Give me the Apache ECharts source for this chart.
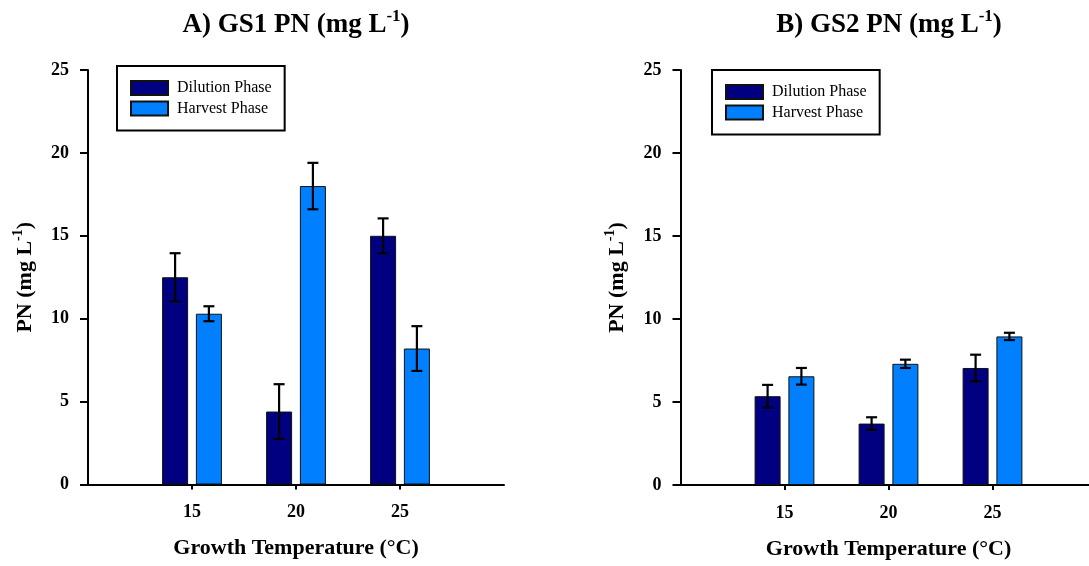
<!DOCTYPE html>
<html>
<head>
<meta charset="utf-8">
<script src="https://cdn.jsdelivr.net/npm/echarts@6/dist/echarts.min.js"></script>
<style>
html,body{margin:0;padding:0;background:#fff;}
#chart{width:1089px;height:566px;}
</style>
</head>
<body>
<div id="chart"></div>
<script>
// ---- data ----
const temperatures = [15, 20, 25];
const seriesNames = ['Dilution Phase', 'Harvest Phase'];
// Panel A: GS1
const gs1Dilution = [12.5, 4.4, 15.0];
const gs1DilutionErr = [1.45, 1.65, 1.05];
const gs1Harvest = [10.3, 18.0, 8.2];
const gs1HarvestErr = [0.45, 1.4, 1.35];
// Panel B: GS2
const gs2Dilution = [5.35, 3.7, 7.05];
const gs2DilutionErr = [0.68, 0.38, 0.8];
const gs2Harvest = [6.55, 7.3, 8.95];
const gs2HarvestErr = [0.5, 0.25, 0.22];
const yTickValues = [0, 5, 10, 15, 20, 25];
const xTickValues = [15, 20, 25];

const FONT = 'Liberation Serif';
const C_DIL = '#000080';
const C_HAR = '#0080ff';

const chart = echarts.init(document.getElementById('chart'), null, {renderer: 'canvas'});

function pairs(vals) { return temperatures.map((t, i) => [t, vals[i]]); }
function errPairs(vals, errs) { return temperatures.map((t, i) => [t, vals[i], errs[i]]); }

function errorRenderer(offset) {
  return function (params, api) {
    const x = api.value(0), v = api.value(1), e = api.value(2);
    const top = api.coord([x, v + e]);
    const bot = api.coord([x, v - e]);
    const cx = top[0] + offset;
    const hw = 5.5;
    const st = {stroke: '#000', lineWidth: 2.2, fill: null};
    return {
      type: 'group',
      children: [
        {type: 'line', shape: {x1: cx, y1: top[1], x2: cx, y2: bot[1]}, style: st},
        {type: 'line', shape: {x1: cx - hw, y1: top[1], x2: cx + hw, y2: top[1]}, style: st},
        {type: 'line', shape: {x1: cx - hw, y1: bot[1], x2: cx + hw, y2: bot[1]}, style: st}
      ]
    };
  };
}

const grids = [
  {left: 88, top: 70, width: 416, height: 414.5, outerBoundsMode: 'none', containLabel: false},
  {left: 680.5, top: 70, width: 416, height: 415, outerBoundsMode: 'none', containLabel: false}
];

function xAxisFor(i) {
  return {
    type: 'value', gridIndex: i, min: 10, max: 30, interval: 5,
    name: 'Growth Temperature (°C)', nameLocation: 'middle', nameGap: 53,
    nameTextStyle: {fontFamily: FONT, fontWeight: 'bold', fontSize: 22, color: '#000'},
    axisLine: {show: true, lineStyle: {color: '#000', width: 2}},
    axisTick: {show: true, length: 5, inside: false, customValues: xTickValues, lineStyle: {color: '#000', width: 2}},
    axisLabel: {customValues: xTickValues, margin: 19, fontFamily: FONT, fontWeight: 'bold', fontSize: 18, color: '#000'},
    splitLine: {show: false}
  };
}
function yAxisFor(i) {
  return {
    type: 'value', gridIndex: i, min: 0, max: 25, interval: 5,
    name: '{a|PN (mg L}{s|-1}{a|)}', nameLocation: 'middle', nameGap: 49, nameRotate: 90,
    nameTextStyle: {
      fontFamily: FONT, fontWeight: 'bold', fontSize: 22, color: '#000',
      rich: {
        a: {fontFamily: FONT, fontWeight: 'bold', fontSize: 22, color: '#000', lineHeight: 28},
        s: {fontFamily: FONT, fontWeight: 'bold', fontSize: 14, color: '#000', verticalAlign: 'top', lineHeight: 16}
      }
    },
    axisLine: {show: true, lineStyle: {color: '#000', width: 2}},
    axisTick: {show: true, length: 8, inside: false, lineStyle: {color: '#000', width: 2}},
    axisLabel: {margin: 19, fontFamily: FONT, fontWeight: 'bold', fontSize: 18, color: '#000'},
    splitLine: {show: false}
  };
}

function barSeries(name, i, vals, color) {
  return {
    name: name, type: 'bar', xAxisIndex: i, yAxisIndex: i,
    data: pairs(vals), barWidth: 26, barGap: '30%',
    itemStyle: {color: color, borderColor: '#111', borderWidth: 1},
    emphasis: {disabled: true}, z: 2
  };
}
function errSeries(i, vals, errs, offset) {
  return {
    type: 'custom', xAxisIndex: i, yAxisIndex: i,
    data: errPairs(vals, errs), encode: {x: 0, y: 1},
    renderItem: errorRenderer(offset), z: 5, silent: true
  };
}

function legendFor(left, top) {
  return {
    left: left, top: top, orient: 'vertical',
    data: seriesNames, icon: 'rect', itemWidth: 37, itemHeight: 14, itemGap: 4.5,
    padding: [14, 13, 14, 13], borderColor: '#000', borderWidth: 2, borderRadius: 0,
    selectedMode: false,
    textStyle: {fontFamily: FONT, fontSize: 16, color: '#000', padding: [0, 0, 0, 4]}
  };
}

function titleText(x, label) {
  return {
    type: 'text', x: x, y: 25,
    style: {
      text: '{a|' + label + ' PN (mg L}{s|-1}{a|)}',
      align: 'center', verticalAlign: 'middle',
      rich: {
        a: {fontFamily: FONT, fontWeight: 'bold', fontSize: 27, fill: '#000', lineHeight: 34},
        s: {fontFamily: FONT, fontWeight: 'bold', fontSize: 17, fill: '#000', verticalAlign: 'top', lineHeight: 20}
      }
    }
  };
}

const option = {
  animation: false,
  backgroundColor: '#fff',
  grid: grids,
  xAxis: [xAxisFor(0), xAxisFor(1)],
  yAxis: [yAxisFor(0), yAxisFor(1)],
  legend: [legendFor(117, 66), legendFor(712, 70)],
  graphic: [titleText(296, 'A) GS1'), titleText(889, 'B) GS2')],
  series: [
    barSeries(seriesNames[0], 0, gs1Dilution, C_DIL),
    barSeries(seriesNames[1], 0, gs1Harvest, C_HAR),
    barSeries(seriesNames[0], 1, gs2Dilution, C_DIL),
    barSeries(seriesNames[1], 1, gs2Harvest, C_HAR),
    errSeries(0, gs1Dilution, gs1DilutionErr, -16.9),
    errSeries(0, gs1Harvest, gs1HarvestErr, 16.9),
    errSeries(1, gs2Dilution, gs2DilutionErr, -16.9),
    errSeries(1, gs2Harvest, gs2HarvestErr, 16.9)
  ]
};
chart.setOption(option);
</script>
</body>
</html>
